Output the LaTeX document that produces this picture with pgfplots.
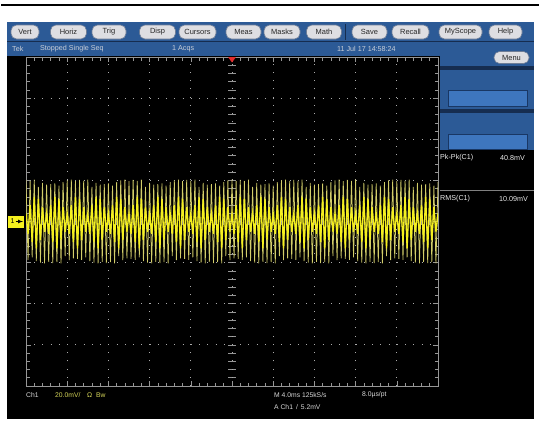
\documentclass[border=0pt]{standalone}
\usepackage{fontspec}
\setmainfont{Liberation Sans}
\usepackage{pgfplots}
\usepackage{pgfplotstable}
\pgfplotsset{compat=1.18}

\definecolor{barblue}{RGB}{44,90,150}
\definecolor{bardark}{RGB}{22,45,80}
\definecolor{boxblue}{RGB}{62,118,190}
\definecolor{boxedge}{RGB}{25,55,100}
\definecolor{btnfill}{RGB}{222,222,226}
\definecolor{btnedge}{RGB}{110,125,150}
\definecolor{stattxt}{RGB}{200,206,216}
\definecolor{gridgray}{RGB}{150,150,150}
\definecolor{palegold}{RGB}{210,205,105}
\definecolor{tracey}{RGB}{245,240,30}
\definecolor{chyellow}{RGB}{215,215,90}
\definecolor{trigred}{RGB}{225,45,45}

% ch1 trace, time in ms (4 ms/div), volts in mV (20 mV/div)
\pgfplotstableread{
t full core
-20.0 20.2 4
-19.8 -18.6 -6
-19.6 19.8 8
-19.4 -17.4 -10
-19.2 20.4 12
-19.0 -19.2 -13
-18.8 16.8 11
-18.6 -20.0 -9
-18.4 18.8 7
-18.2 -20.4 -5
-18.0 17.9 4
-17.8 -19.6 -6
-17.6 18.2 8
-17.4 -20.2 -10
-17.2 18.6 12
-17.0 -19.8 -13
-16.8 17.4 11
-16.6 -20.4 -9
-16.4 19.2 7
-16.2 -16.8 -5
-16.0 20.0 4
-15.8 -18.8 -6
-15.6 20.4 8
-15.4 -17.9 -10
-15.2 19.6 12
-15.0 -18.2 -13
-14.8 20.2 11
-14.6 -18.6 -9
-14.4 19.8 7
-14.2 -17.4 -5
-14.0 20.4 4
-13.8 -19.2 -6
-13.6 16.8 8
-13.4 -20.0 -10
-13.2 18.8 12
-13.0 -20.4 -13
-12.8 17.9 11
-12.6 -19.6 -9
-12.4 18.2 7
-12.2 -20.2 -5
-12.0 18.6 4
-11.8 -19.8 -6
-11.6 17.4 8
-11.4 -20.4 -10
-11.2 19.2 12
-11.0 -16.8 -13
-10.8 20.0 11
-10.6 -18.8 -9
-10.4 20.4 7
-10.2 -17.9 -5
-10.0 19.6 4
-9.8 -18.2 -6
-9.6 20.2 8
-9.4 -18.6 -10
-9.2 19.8 12
-9.0 -17.4 -13
-8.8 20.4 11
-8.6 -19.2 -9
-8.4 16.8 7
-8.2 -20.0 -5
-8.0 18.8 4
-7.8 -20.4 -6
-7.6 17.9 8
-7.4 -19.6 -10
-7.2 18.2 12
-7.0 -20.2 -13
-6.8 18.6 11
-6.6 -19.8 -9
-6.4 17.4 7
-6.2 -20.4 -5
-6.0 19.2 4
-5.8 -16.8 -6
-5.6 20.0 8
-5.4 -18.8 -10
-5.2 20.4 12
-5.0 -17.9 -13
-4.8 19.6 11
-4.6 -18.2 -9
-4.4 20.2 7
-4.2 -18.6 -5
-4.0 19.8 4
-3.8 -17.4 -6
-3.6 20.4 8
-3.4 -19.2 -10
-3.2 16.8 12
-3.0 -20.0 -13
-2.8 18.8 11
-2.6 -20.4 -9
-2.4 17.9 7
-2.2 -19.6 -5
-2.0 18.2 4
-1.8 -20.2 -6
-1.6 18.6 8
-1.4 -19.8 -10
-1.2 17.4 12
-1.0 -20.4 -13
-0.8 19.2 11
-0.6 -16.8 -9
-0.4 20.0 7
-0.2 -18.8 -5
0.0 20.4 4
0.2 -17.9 -6
0.4 19.6 8
0.6 -18.2 -10
0.8 20.2 12
1.0 -18.6 -13
1.2 19.8 11
1.4 -17.4 -9
1.6 20.4 7
1.8 -19.2 -5
2.0 16.8 4
2.2 -20.0 -6
2.4 18.8 8
2.6 -20.4 -10
2.8 17.9 12
3.0 -19.6 -13
3.2 18.2 11
3.4 -20.2 -9
3.6 18.6 7
3.8 -19.8 -5
4.0 17.4 4
4.2 -20.4 -6
4.4 19.2 8
4.6 -16.8 -10
4.8 20.0 12
5.0 -18.8 -13
5.2 20.4 11
5.4 -17.9 -9
5.6 19.6 7
5.8 -18.2 -5
6.0 20.2 4
6.2 -18.6 -6
6.4 19.8 8
6.6 -17.4 -10
6.8 20.4 12
7.0 -19.2 -13
7.2 16.8 11
7.4 -20.0 -9
7.6 18.8 7
7.8 -20.4 -5
8.0 17.9 4
8.2 -19.6 -6
8.4 18.2 8
8.6 -20.2 -10
8.8 18.6 12
9.0 -19.8 -13
9.2 17.4 11
9.4 -20.4 -9
9.6 19.2 7
9.8 -16.8 -5
10.0 20.0 4
10.2 -18.8 -6
10.4 20.4 8
10.6 -17.9 -10
10.8 19.6 12
11.0 -18.2 -13
11.2 20.2 11
11.4 -18.6 -9
11.6 19.8 7
11.8 -17.4 -5
12.0 20.4 4
12.2 -19.2 -6
12.4 16.8 8
12.6 -20.0 -10
12.8 18.8 12
13.0 -20.4 -13
13.2 17.9 11
13.4 -19.6 -9
13.6 18.2 7
13.8 -20.2 -5
14.0 18.6 4
14.2 -19.8 -6
14.4 17.4 8
14.6 -20.4 -10
14.8 19.2 12
15.0 -16.8 -13
15.2 20.0 11
15.4 -18.8 -9
15.6 20.4 7
15.8 -17.9 -5
16.0 19.6 4
16.2 -18.2 -6
16.4 20.2 8
16.6 -18.6 -10
16.8 19.8 12
17.0 -17.4 -13
17.2 20.4 11
17.4 -19.2 -9
17.6 16.8 7
17.8 -20.0 -5
18.0 18.8 4
18.2 -20.4 -6
18.4 17.9 8
18.6 -19.6 -10
18.8 18.2 12
19.0 -20.2 -13
19.2 18.6 11
19.4 -19.8 -9
19.6 17.4 7
19.8 -20.4 -5
20.0 19.2 4
}\trace

\begin{document}
\begin{tikzpicture}[x=1bp,y=-1bp,
  btn/.style={draw=btnedge, line width=0.6bp, fill=btnfill, rounded corners=5.5bp,
    minimum height=14bp, inner sep=0pt, text=black!85,
    font=\fontsize{7.5}{8.5}\selectfont},
  stat/.style={anchor=west, inner sep=0pt, text=stattxt, font=\fontsize{7.2}{8}\selectfont},
  bot/.style={anchor=west, inner sep=0pt, text=black!15, font=\fontsize{6.8}{7.5}\selectfont}]
\useasboundingbox (0,0) rectangle (544,421);
\fill[white] (0,0) rectangle (544,421);
\draw[black, line width=2bp] (1,5) -- (539,5);

% screen
\fill[black] (7,21.5) rectangle (534,419);
\fill[barblue] (7,21.5) rectangle (534,56);
\draw[bardark, line width=0.6bp] (7,41.5) -- (534,41.5);
\draw[bardark, line width=1bp] (345,24) -- (345,40);

% menu buttons
\node[btn, minimum width=28bp] at (25,32) {Vert};
\node[btn, minimum width=36bp] at (68.5,32) {Horiz};
\node[btn, minimum width=34bp] at (109,32) {Trig};
\node[btn, minimum width=36bp] at (157.5,32) {Disp};
\node[btn, minimum width=37bp] at (197.5,32) {Cursors};
\node[btn, minimum width=35bp] at (243.5,32) {Meas};
\node[btn, minimum width=36bp] at (282,32) {Masks};
\node[btn, minimum width=35bp] at (324,32) {Math};
\node[btn, minimum width=35bp] at (369.5,32) {Save};
\node[btn, minimum width=37bp] at (410.5,32) {Recall};
\node[btn, minimum width=43bp] at (460.5,32) {MyScope};
\node[btn, minimum width=33bp] at (505.5,32) {Help};

% status line
\node[stat] at (12,48.5) {Tek};
\node[stat] at (40,48.5) {Stopped Single Seq};
\node[stat] at (172,48.5) {1 Acqs};
\node[stat] at (337,48.5) {11 Jul 17 14:58:24};

% right side panel
\fill[barblue] (440,41.5) rectangle (534,150);
\fill[bardark] (440,66) rectangle (534,70);
\fill[bardark] (440,108.5) rectangle (534,113);
\node[btn, minimum width=35bp, minimum height=12bp] at (511.5,57.5) {Menu};
\filldraw[fill=boxblue, draw=boxedge, line width=0.8bp] (448,90) rectangle (527,106);
\filldraw[fill=boxblue, draw=boxedge, line width=0.8bp] (448,134) rectangle (527,149);
\node[stat, text=white!92!black] at (440,158) {Pk-Pk(C1)};
\node[stat, anchor=east, text=white!92!black] at (525,158) {40.8mV};
\draw[gray, line width=0.6bp] (440,190.5) -- (534,190.5);
\node[stat, text=white!92!black] at (440,199) {RMS(C1)};
\node[stat, anchor=east, text=white!92!black] at (528,199) {10.09mV};

% centre cross ticks of the graticule
\foreach \i in {1,...,49} \draw[gridgray, line width=0.6bp] ({26+8.24*\i},218) -- ++(0,7);
\foreach \j in {1,...,39} \draw[gridgray, line width=0.6bp] (228,{57+8.225*\j}) -- ++(8,0);

\begin{axis}[
  at={(26bp,-386bp)}, anchor=south west,
  width=412bp, height=329bp, scale only axis,
  xmin=-20, xmax=20, ymin=-80, ymax=80,
  xtick={-20,-16,...,20}, ytick={-80,-60,...,80},
  minor x tick num=4, minor y tick num=4,
  xticklabels={}, yticklabels={},
  xtick pos=both, ytick pos=both,
  tick align=inside,
  major tick length=5bp, minor tick length=3.5bp,
  every tick/.style={gridgray, line width=0.6bp},
  axis line style={gridgray, line width=0.7bp},
  grid=major,
  major grid style={gridgray!80, line width=0.9bp, dash pattern=on 0.9bp off 7.34bp},
  every axis plot/.append style={mark=none},
]
\addplot[palegold, line width=0.75bp] table[x=t, y=full] {\trace};
\addplot[tracey, line width=1.3bp] table[x=t, y=core] {\trace};
\end{axis}

% trigger position and ground markers
\fill[trigred] (228,57) -- (236,57) -- (232,62.5) -- cycle;
\fill[tracey] (8,215.5) rectangle (24,227.5);
\node[inner sep=0pt, text=black, font=\fontsize{7}{8}\selectfont] at (12.5,221.5) {1};
\draw[black, line width=0.7bp, -latex] (15.5,221.5) -- (23,221.5);

% bottom readouts
\node[bot] at (26,395) {Ch1};
\node[bot, text=chyellow] at (55,395) {20.0mV/};
\node[bot, text=chyellow] at (87,395) {Ω};
\node[bot, text=chyellow] at (96,395) {Bw};
\node[bot] at (274,395) {M 4.0ms 125kS/s};
\node[bot] at (362,395) {8.0µs/pt};
\node[bot] at (274,407) {A Ch1 \,/\, 5.2mV};
\end{tikzpicture}
\end{document}
